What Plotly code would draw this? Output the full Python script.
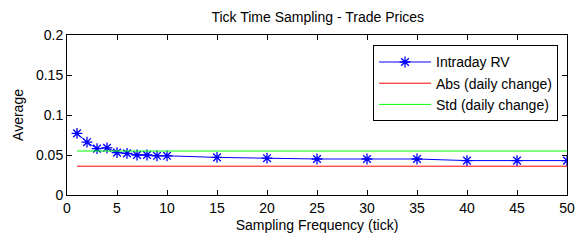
import plotly.graph_objects as go

freq = [1, 2, 3, 4, 5, 6, 7, 8, 9, 10, 15, 20, 25, 30, 35, 40, 45, 50]
intraday_rv = [0.077, 0.066, 0.058, 0.059, 0.053, 0.052, 0.050, 0.050, 0.049, 0.049,
               0.047, 0.046, 0.045, 0.045, 0.045, 0.043, 0.043, 0.043]
abs_daily = 0.036
std_daily = 0.055
x_ticks = [0, 5, 10, 15, 20, 25, 30, 35, 40, 45, 50]
y_ticks = [0, 0.05, 0.1, 0.15, 0.2]
y_tick_labels = ["0", "0.05", "0.1", "0.15", "0.2"]

FAM = "Liberation Sans, Arial, sans-serif"
font = dict(family=FAM, size=14, color="black")

fig = go.Figure()
fig.add_trace(go.Scatter(
    x=freq, y=intraday_rv, mode="lines+markers", name="Intraday RV",
    line=dict(color="#0000FF", width=1),
    marker=dict(symbol="asterisk-open", size=9, color="#0000FF",
                line=dict(color="#0000FF", width=1.3)),
))
fig.add_trace(go.Scatter(
    x=[freq[0], freq[-1]], y=[abs_daily, abs_daily], mode="lines",
    name="Abs (daily change)", line=dict(color="#FF0000", width=1),
))
fig.add_trace(go.Scatter(
    x=[freq[0], freq[-1]], y=[std_daily, std_daily], mode="lines",
    name="Std (daily change)", line=dict(color="#00FF00", width=1),
))

axis_common = dict(
    showgrid=False, zeroline=False, showline=True, linecolor="black", linewidth=1,
    mirror="ticks", ticks="inside", ticklen=5, tickcolor="black", tickwidth=1,
    tickfont=font,
)

fig.update_layout(
    width=583, height=241,
    margin=dict(l=67, r=8, t=35, b=46),
    paper_bgcolor="white", plot_bgcolor="white",
    font=font,
    title=dict(text="Tick Time Sampling - Trade Prices", x=0.545, xanchor="center",
               y=0.93, yanchor="middle", font=dict(size=14, family=FAM)),
    xaxis=dict(range=[0, 50], tickvals=x_ticks,
               title=dict(text="Sampling Frequency (tick)", standoff=5, font=font),
               **axis_common),
    yaxis=dict(range=[0, 0.2], tickvals=y_ticks, ticktext=y_tick_labels,
               title=dict(text="Average", standoff=9, font=font),
               **axis_common),
    legend=dict(x=0.612, y=0.935, xanchor="left", yanchor="top",
                bgcolor="white", bordercolor="black", borderwidth=1,
                font=dict(family=FAM, size=14, color="black"),
                tracegroupgap=0, itemwidth=52),
    showlegend=True,
)

fig.write_html("out.html", config={"displayModeBar": False},
               post_script="document.body.style.margin='0';")
